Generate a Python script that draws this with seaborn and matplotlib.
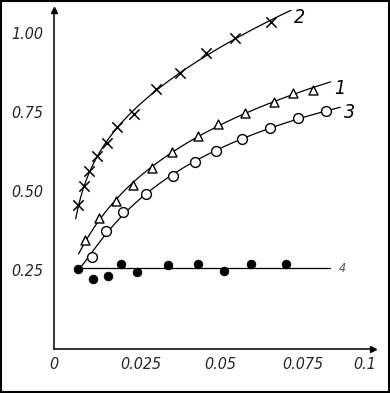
import numpy as np
import pandas as pd
import matplotlib
matplotlib.use("Agg")
import matplotlib.pyplot as plt
import seaborn as sns

# curve 2 (crosses)
x2 = [0.0053, 0.0074, 0.0089, 0.0114, 0.0144, 0.0174, 0.0226, 0.0295, 0.0371, 0.0450, 0.0541, 0.0650]
y2 = [0.456, 0.516, 0.563, 0.611, 0.652, 0.703, 0.744, 0.823, 0.873, 0.937, 0.984, 1.035]
# curve 1 (open triangles)
x1 = [0.0077, 0.0120, 0.0171, 0.0223, 0.0283, 0.0344, 0.0426, 0.0486, 0.0571, 0.0659, 0.0720, 0.0780]
y1 = [0.345, 0.415, 0.468, 0.519, 0.573, 0.623, 0.674, 0.712, 0.747, 0.782, 0.810, 0.820]
# curve 3 (open circles)
x3 = [0.0098, 0.0141, 0.0192, 0.0265, 0.0347, 0.0417, 0.0480, 0.0562, 0.0647, 0.0735, 0.0820]
y3 = [0.291, 0.373, 0.434, 0.491, 0.547, 0.592, 0.627, 0.665, 0.699, 0.731, 0.753]
# curve 4 (filled circles)
x4 = [0.0053, 0.0102, 0.0147, 0.0186, 0.0238, 0.0332, 0.0426, 0.0505, 0.0589, 0.0698]
y4 = [0.253, 0.222, 0.231, 0.269, 0.244, 0.266, 0.269, 0.247, 0.269, 0.269]
level4 = 0.256

# where each drawn curve starts and ends
curve_start = {"1": (0.0056, 0.297), "2": (0.0047, 0.40), "3": (0.0053, 0.253)}
curve_end = {"1": 0.0835, "2": 0.0714, "3": 0.0865, "4": 0.0835}

ytick_vals = [0.25, 0.50, 0.75, 1.00]
ytick_labels = ["0.25", "0.50", "0.75", "1.00"]
xtick_vals = [-0.002, 0.025, 0.0493, 0.075, 0.094]
xtick_labels = ["0", "0.025", "0.05", "0.075", "0.1"]

sns.set_style("white")
plt.rcParams["font.family"] = ["DejaVu Sans"]

fig = plt.figure(figsize=(3.9, 3.93), dpi=100)
ax = fig.add_axes([0.1385, 0.112, 0.8167, 0.8626])

def smooth(xs, ys, name):
    x0, y0 = curve_start[name]
    fx = np.log(np.r_[x0, xs])
    fy = np.r_[y0, ys]
    coef = np.polyfit(fx, fy, 3)
    xx = np.linspace(x0, curve_end[name], 200)
    return pd.DataFrame({"x": xx, "y": np.polyval(coef, np.log(xx))})

for name, xs, ys in [("1", x1, y1), ("2", x2, y2), ("3", x3, y3)]:
    c = smooth(xs, ys, name)
    sns.lineplot(data=c, x="x", y="y", ax=ax, color="black", lw=0.9,
                 sort=False, estimator=None)

c4 = pd.DataFrame({"x": [x4[0], curve_end["4"]], "y": [level4, level4]})
sns.lineplot(data=c4, x="x", y="y", ax=ax, color="black", lw=0.9,
             sort=False, estimator=None)

sns.scatterplot(x=x2, y=y2, ax=ax, marker="x", s=55, color="black", linewidth=1.1, zorder=3)
sns.scatterplot(x=x1, y=y1, ax=ax, marker="^", s=42, facecolor="white",
                edgecolor="black", linewidth=1.0, zorder=3)
sns.scatterplot(x=x3, y=y3, ax=ax, marker="o", s=50, facecolor="white",
                edgecolor="black", linewidth=1.0, zorder=3)
sns.scatterplot(x=x4, y=y4, ax=ax, marker="o", s=40, color="black",
                edgecolor="black", linewidth=0.5, zorder=3)

lab = dict(style="italic", fontstretch="condensed", color="black", va="center", ha="left")
ax.text(0.0722, 1.050, "2", fontsize=14, **lab)
ax.text(0.0847, 0.826, "1", fontsize=14, **lab)
ax.text(0.0877, 0.747, "3", fontsize=14, **lab)
ax.text(0.0860, 0.256, "4", fontsize=9, **{**lab, "color": "#555555"})

ax.set_xlim(0, 0.0965)
ax.set_ylim(0, 1.073)
ax.set_xticks(xtick_vals)
ax.set_xticklabels(xtick_labels)
ax.set_yticks(ytick_vals)
ax.set_yticklabels(ytick_labels)
for t in ax.get_xticklabels() + ax.get_yticklabels():
    t.set_fontstyle("italic")
    t.set_fontstretch("condensed")
    t.set_fontsize(11.5)
ax.tick_params(axis="y", direction="out", length=5, width=1, pad=3, color="black")
ax.tick_params(axis="x", length=0, pad=6)
ax.set_xlabel("")
ax.set_ylabel("")

for side in ["top", "right"]:
    ax.spines[side].set_visible(False)
for side in ["left", "bottom"]:
    ax.spines[side].set_color("black")
    ax.spines[side].set_linewidth(1.1)

# axis arrowheads
ax.plot(0, 1, marker="^", ms=5, color="black", transform=ax.transAxes, clip_on=False)
ax.plot(1, 0, marker=">", ms=5, color="black", transform=ax.transAxes, clip_on=False)

# frame around the whole picture
fig.patches.append(plt.Rectangle((0.002, 0.002), 0.996, 0.996, transform=fig.transFigure,
                                 fill=False, edgecolor="black", linewidth=1.5))

fig.savefig("out.png", dpi=100)
